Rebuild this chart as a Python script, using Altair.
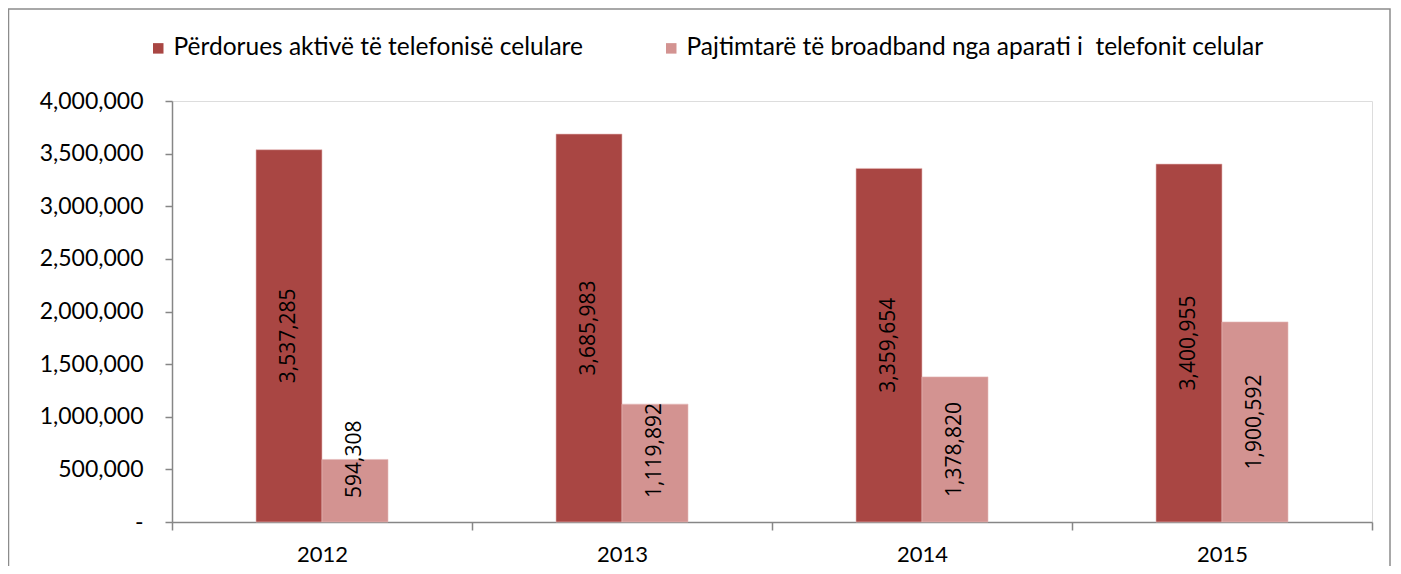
import altair as alt
import pandas as pd

years = ["2012", "2013", "2014", "2015"]
series_names = [
    "Përdorues aktivë të telefonisë celulare",
    "Pajtimtarë të broadband nga aparati i\u00a0 telefonit celular",
]
active_users = [3537285, 3685983, 3359654, 3400955]
broadband_subs = [594308, 1119892, 1378820, 1900592]
colors = ["#A94643", "#D39391"]

rows = []
for i, y in enumerate(years):
    rows.append({"year": y, "series": series_names[0], "order": 0, "value": active_users[i]})
    rows.append({"year": y, "series": series_names[1], "order": 1, "value": broadband_subs[i]})
df = pd.DataFrame(rows)

W, H = 1200, 421

x_enc = alt.X(
    "year:N",
    sort=years,
    scale=alt.Scale(paddingInner=0, paddingOuter=0),
    axis=alt.Axis(
        title=None,
        labelAngle=0,
        tickBand="extent",
        tickSize=8,
        tickColor="#868686",
        tickWidth=1.5,
        domainColor="#868686",
        domainWidth=1.5,
        labelFont="Lato",
        labelFontSize=22,
        labelColor="#000000",
        labelPadding=14,
    ),
)
xoff_scale = alt.Scale(paddingInner=0, paddingOuter=0, range=[84, 216])
xoff = alt.XOffset("series:N", sort=series_names, scale=xoff_scale)
y_scale = alt.Scale(domain=[0, 4000000], nice=False)

bars = alt.Chart(df).mark_bar(stroke="#E6B9B8", strokeWidth=0.6).encode(
    x=x_enc,
    xOffset=xoff,
    y=alt.Y(
        "value:Q",
        scale=y_scale,
        axis=alt.Axis(
            title=None,
            values=[0, 500000, 1000000, 1500000, 2000000, 2500000, 3000000, 3500000, 4000000],
            labelExpr="datum.value == 0 ? '-' : format(datum.value, ',')",
            grid=False,
            tickSize=7,
            tickColor="#868686",
            tickWidth=1.5,
            domainColor="#868686",
            domainWidth=1.5,
            labelFont="Lato",
            labelFontSize=23,
            labelColor="#000000",
            labelPadding=22,
        ),
    ),
    color=alt.Color(
        "series:N",
        sort=series_names,
        scale=alt.Scale(domain=series_names, range=colors),
        legend=alt.Legend(
            title=None,
            orient="none",
            legendX=-26,
            legendY=-65,
            direction="horizontal",
            symbolType="square",
            symbolSize=110,
            symbolStrokeWidth=0,
            labelFont="Lato",
            labelFontSize=24.5,
            labelColor="#000000",
            labelLimit=800,
            columnPadding=76,
            labelOffset=3,
        ),
    ),
)

base_text = alt.Chart(df).transform_calculate(
    label="format(datum.value, ',')",
    mid="datum.value / 2",
    zero="0",
)

text_mid = base_text.transform_filter("datum.value >= 1300000").mark_text(
    angle=270, align="center", baseline="middle", font="Open Sans", fontSize=21, color="#000000"
).encode(
    x=alt.X("year:N", sort=years),
    xOffset=alt.XOffset("series:N", sort=series_names),
    y=alt.Y("mid:Q", scale=y_scale),
    text="label:N",
)

text_low = base_text.transform_filter("datum.value < 1300000").mark_text(
    angle=270, align="left", baseline="middle", dx=24, font="Open Sans", fontSize=21, color="#000000"
).encode(
    x=alt.X("year:N", sort=years),
    xOffset=alt.XOffset("series:N", sort=series_names),
    y=alt.Y("zero:Q", scale=y_scale),
    text="label:N",
)

border = alt.Chart(pd.DataFrame({"v": [0]})).mark_rect(
    fill=None, stroke="#8C8C8C", strokeWidth=1.5
).encode(
    x=alt.value(-163.5),
    x2=alt.value(W + 18),
    y=alt.value(-92),
    y2=alt.value(H + 80),
)

chart = alt.layer(border, bars, text_mid, text_low).properties(
    width=W,
    height=H,
    autosize=alt.AutoSizeParams(type="none"),
    padding={"left": 164, "top": 93, "right": 20, "bottom": 44},
).configure_view(stroke=None).configure(background="white")

chart.save("out.html", embed_options={"renderer": "svg", "actions": False})
